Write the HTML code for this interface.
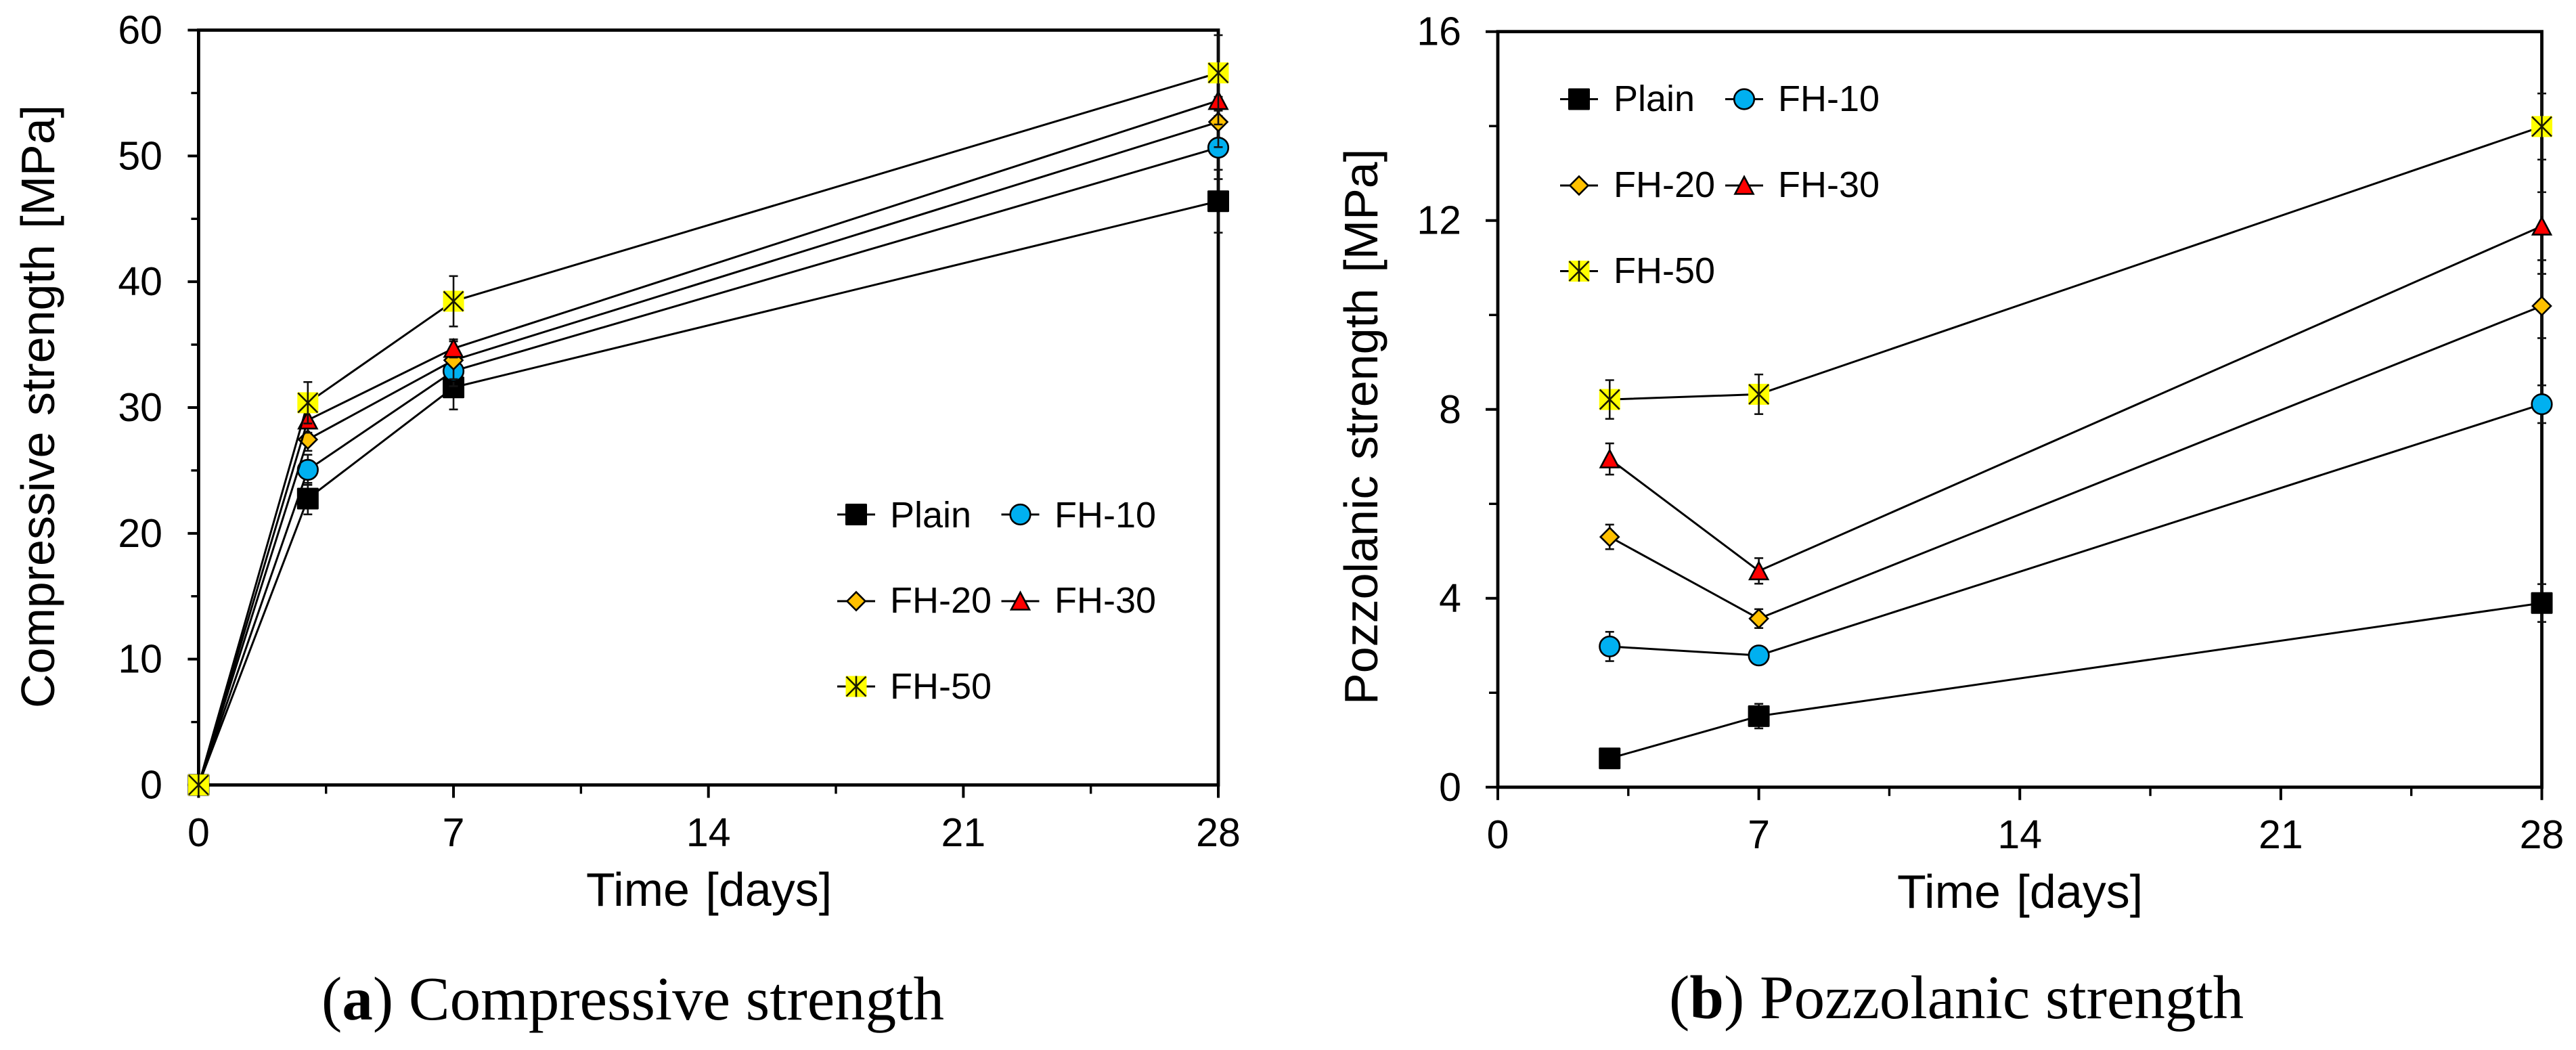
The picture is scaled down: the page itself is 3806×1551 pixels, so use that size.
<!DOCTYPE html>
<html lang="en">
<head>
<meta charset="utf-8">
<title>Compressive and pozzolanic strength</title>
<style>
html,body{margin:0;padding:0;background:#fff;}
svg{display:block;}
text{fill:#000;font-family:"Liberation Sans",Arial,sans-serif;}
.axis-title{font-size:70px;word-spacing:4px;}
.legend-text{font-size:54px;}
.tick-label{font-size:59px;}
.caption{font-family:"Liberation Serif",serif;font-size:91px;}
.caption tspan{font-weight:bold;}
</style>
</head>
<body>
<svg id="figure" xmlns="http://www.w3.org/2000/svg" width="3806" height="1551" viewBox="0 0 3806 1551">
  <rect x="0" y="0" width="3806" height="1551" fill="#fff"/>

  <g id="panel-a"></g>
  <g id="panel-b"></g>

  <text class="axis-title" transform="translate(80,1046) rotate(-90)">Compressive strength [MPa]</text>
  <text class="axis-title" x="866" y="1338">Time [days]</text>
  <text class="axis-title" transform="translate(2035,1041) rotate(-90)">Pozzolanic strength [MPa]</text>
  <text class="axis-title" x="2803" y="1341">Time [days]</text>

  <text class="legend-text" x="1315" y="779">Plain</text>
  <text class="legend-text" x="1558" y="779">FH-10</text>
  <text class="legend-text" x="1315" y="905">FH-20</text>
  <text class="legend-text" x="1558" y="905">FH-30</text>
  <text class="legend-text" x="1315" y="1032">FH-50</text>

  <text class="legend-text" x="2384" y="164">Plain</text>
  <text class="legend-text" x="2627" y="164">FH-10</text>
  <text class="legend-text" x="2384" y="291">FH-20</text>
  <text class="legend-text" x="2627" y="291">FH-30</text>
  <text class="legend-text" x="2384" y="418">FH-50</text>

  <text class="caption" x="475" y="1506">(<tspan>a</tspan>) Compressive strength</text>
  <text class="caption" x="2466" y="1504">(<tspan>b</tspan>) Pozzolanic strength</text>
</svg>

<script>
// ---- shared categories ----
const seriesNames = ['Plain', 'FH-10', 'FH-20', 'FH-30', 'FH-50'];
const xTickLabels = ['0', '7', '14', '21', '28'];

// ---- compressive strength (panel a) ----
const compDays = [0, 3, 7, 28];
const compPlain = [0, 22.76, 31.6, 46.4];
const compFH10 = [0, 25.05, 32.9, 50.66];
const compFH20 = [0, 27.46, 33.76, 52.7];
const compFH30 = [0, 29.0, 34.7, 54.4];
const compFH50 = [0, 30.38, 38.45, 56.6];
const compPlainErr = [0, 1.25, 1.75, 2.5];
const compFH10Err = [0, 1.2, 1.2, 2.5];
const compFH20Err = [0, 0.9, 1.5, 2.0];
const compFH30Err = [0, 1.0, 0.72, 1.9];
const compFH50Err = [0, 1.65, 2.0, 3.0];
const compYTickLabels = ['0', '10', '20', '30', '40', '50', '60'];

// ---- pozzolanic strength (panel b) ----
const pozDays = [3, 7, 28];
const pozPlain = [0.61, 1.505, 3.9];
const pozFH10 = [2.98, 2.79, 8.11];
const pozFH20 = [5.3, 3.57, 10.19];
const pozFH30 = [6.95, 4.58, 11.88];
const pozFH50 = [8.21, 8.32, 13.99];
const pozPlainErr = [0.1, 0.26, 0.4];
const pozFH10Err = [0.31, 0.15, 0.4];
const pozFH20Err = [0.26, 0.2, 0.68];
const pozFH30Err = [0.33, 0.27, 0.72];
const pozFH50Err = [0.41, 0.42, 0.7];
const pozYTickLabels = ['0', '4', '8', '12', '16'];

const NS = 'http://www.w3.org/2000/svg';

function svgEl(tag, attrs, parent) {
  const el = document.createElementNS(NS, tag);
  for (const k in attrs) el.setAttribute(k, attrs[k]);
  parent.appendChild(el);
  return el;
}

function drawMarker(kind, cx, cy, parent) {
  const g = svgEl('g', {}, parent);
  
  
  if (kind === 'Plain') {
    svgEl('rect', { x: cx - 16, y: cy - 16, width: 32, height: 32, rx: 1.5, fill: '#000' }, g);
  } else if (kind === 'FH-10') {
    svgEl('circle', { cx: cx, cy: cy, r: 14.8, fill: '#00B0F0', stroke: '#000', 'stroke-width': 2.6 }, g);
  } else if (kind === 'FH-20') {
    const h = 13.5;
    svgEl('polygon', {
      points: cx + ',' + (cy - h) + ' ' + (cx + h) + ',' + cy + ' ' + cx + ',' + (cy + h) + ' ' + (cx - h) + ',' + cy,
      fill: '#FFC000', stroke: '#000', 'stroke-width': 2.6, 'stroke-linejoin': 'miter'
    }, g);
  } else if (kind === 'FH-30') {
    svgEl('polygon', {
      points: cx + ',' + (cy - 13) + ' ' + (cx + 13.5) + ',' + (cy + 12.5) + ' ' + (cx - 13.5) + ',' + (cy + 12.5),
      fill: '#FF0000', stroke: '#000', 'stroke-width': 2.6, 'stroke-linejoin': 'miter'
    }, g);
  } else {
    const h = 15.5;
    svgEl('rect', { x: cx - h, y: cy - h, width: 2 * h, height: 2 * h, fill: '#FFFF00' }, g);
    const st = { stroke: '#1a1a00', 'stroke-width': 2.6 };
    svgEl('line', Object.assign({ x1: cx - h + 1, y1: cy - h + 1, x2: cx + h - 1, y2: cy + h - 1 }, st), g);
    svgEl('line', Object.assign({ x1: cx - h + 1, y1: cy + h - 1, x2: cx + h - 1, y2: cy - h + 1 }, st), g);
    svgEl('line', Object.assign({ x1: cx, y1: cy - h, x2: cx, y2: cy + h }, st), g);
  }
}

function drawSeries(name, days, values, errs, xScale, yScale, root) {
  const g = svgEl('g', {}, root);
  
  
  days.forEach(function (d, i) {
    if (errs[i] <= 0) return;
    const x = xScale(d);
    const top = yScale(values[i] + errs[i]);
    const bottom = yScale(values[i] - errs[i]);
    const bar = svgEl('path', {
      d: 'M' + x + ' ' + top + 'V' + bottom + 'M' + (x - 6.5) + ' ' + top + 'H' + (x + 6.5) + 'M' + (x - 6.5) + ' ' + bottom + 'H' + (x + 6.5),
      fill: 'none', stroke: '#111', 'stroke-width': 2.6
    }, g);
    
    
  });
  const pts = days.map(function (d, i) { return xScale(d) + ',' + yScale(values[i]); }).join(' ');
  const line = svgEl('polyline', { points: pts, fill: 'none', stroke: '#000', 'stroke-width': 3, 'stroke-linejoin': 'round' }, g);
  
  
  days.forEach(function (d, i) {
    drawMarker(name, xScale(d), yScale(values[i]), g);
  });
}

function drawAxes(root, o) {
  const xScale = o.xScale, yScale = o.yScale;
  const frame = svgEl('rect', {
    x: xScale(0), y: yScale(o.yMax), width: xScale(28) - xScale(0), height: yScale(0) - yScale(o.yMax),
    fill: 'none', stroke: '#000', 'stroke-width': 4.8
  }, root);
  
  

  // x ticks: major every 7 days with a minor halfway
  xTickLabels.forEach(function (lab, i) {
    const v = Number(lab);
    const x = xScale(v);
    const tick = svgEl('line', { x1: x, x2: x, y1: yScale(0), y2: yScale(0) + 19, stroke: '#000', 'stroke-width': 4 }, root);
    
    
    const t = svgEl('text', { class: 'tick-label', x: x, y: o.xLabelY, 'text-anchor': 'middle' }, root);
    
    
    t.textContent = lab;
    if (i < xTickLabels.length - 1) {
      const mx = xScale(v + 3.5);
      const minor = svgEl('line', { x1: mx, x2: mx, y1: yScale(0), y2: yScale(0) + 13, stroke: '#000', 'stroke-width': 3.4 }, root);
      
      
    }
  });

  // y ticks: major from label list with a minor halfway
  o.yLabels.forEach(function (lab, i) {
    const v = Number(lab);
    const y = yScale(v);
    const tick = svgEl('line', { x1: xScale(0) - o.yTickLen, x2: xScale(0), y1: y, y2: y, stroke: '#000', 'stroke-width': 4 }, root);
    
    
    const t = svgEl('text', { class: 'tick-label', x: o.yLabelX, y: y + 20, 'text-anchor': 'end' }, root);
    
    
    t.textContent = lab;
    if (i < o.yLabels.length - 1) {
      const my = yScale((v + Number(o.yLabels[i + 1])) / 2);
      const minor = svgEl('line', { x1: xScale(0) - o.yTickLen + 5, x2: xScale(0), y1: my, y2: my, stroke: '#000', 'stroke-width': 3.4 }, root);
      
      
    }
  });
}

function drawLegendSwatch(name, cx, cy, root) {
  const g = svgEl('g', {}, root);
  
  
  svgEl('line', { x1: cx - 28, x2: cx + 28, y1: cy, y2: cy, stroke: '#000', 'stroke-width': 3 }, g);
  drawMarker(name, cx, cy, g);
}

// ---- panel a ----
(function () {
  const root = document.getElementById('panel-a');
  const xScale = function (d) { return 293.4 + d * (1800 - 293.4) / 28; };
  const yScale = function (v) { return 1159.5 - v * (1159.5 - 44.5) / 60; };
  drawAxes(root, { xScale: xScale, yScale: yScale, yMax: 60, yLabels: compYTickLabels, yTickLen: 16, yLabelX: 240, xLabelY: 1250 });
  const vals = [compPlain, compFH10, compFH20, compFH30, compFH50];
  const errs = [compPlainErr, compFH10Err, compFH20Err, compFH30Err, compFH50Err];
  seriesNames.forEach(function (n, i) { drawSeries(n, compDays, vals[i], errs[i], xScale, yScale, root); });
  drawLegendSwatch('Plain', 1265, 760, root);
  drawLegendSwatch('FH-10', 1507.5, 760, root);
  drawLegendSwatch('FH-20', 1265, 888, root);
  drawLegendSwatch('FH-30', 1507.5, 888, root);
  drawLegendSwatch('FH-50', 1265, 1014, root);
})();

// ---- panel b ----
(function () {
  const root = document.getElementById('panel-b');
  const xScale = function (d) { return 2213 + d * (3755.5 - 2213) / 28; };
  const yScale = function (v) { return 1162.8 - v * (1162.8 - 46.7) / 16; };
  drawAxes(root, { xScale: xScale, yScale: yScale, yMax: 16, yLabels: pozYTickLabels, yTickLen: 18, yLabelX: 2159, xLabelY: 1253 });
  const vals = [pozPlain, pozFH10, pozFH20, pozFH30, pozFH50];
  const errs = [pozPlainErr, pozFH10Err, pozFH20Err, pozFH30Err, pozFH50Err];
  seriesNames.forEach(function (n, i) { drawSeries(n, pozDays, vals[i], errs[i], xScale, yScale, root); });
  drawLegendSwatch('Plain', 2333, 146.5, root);
  drawLegendSwatch('FH-10', 2577, 146.5, root);
  drawLegendSwatch('FH-20', 2333, 274, root);
  drawLegendSwatch('FH-30', 2577, 274, root);
  drawLegendSwatch('FH-50', 2333, 400.5, root);
})();
</script>
</body>
</html>
